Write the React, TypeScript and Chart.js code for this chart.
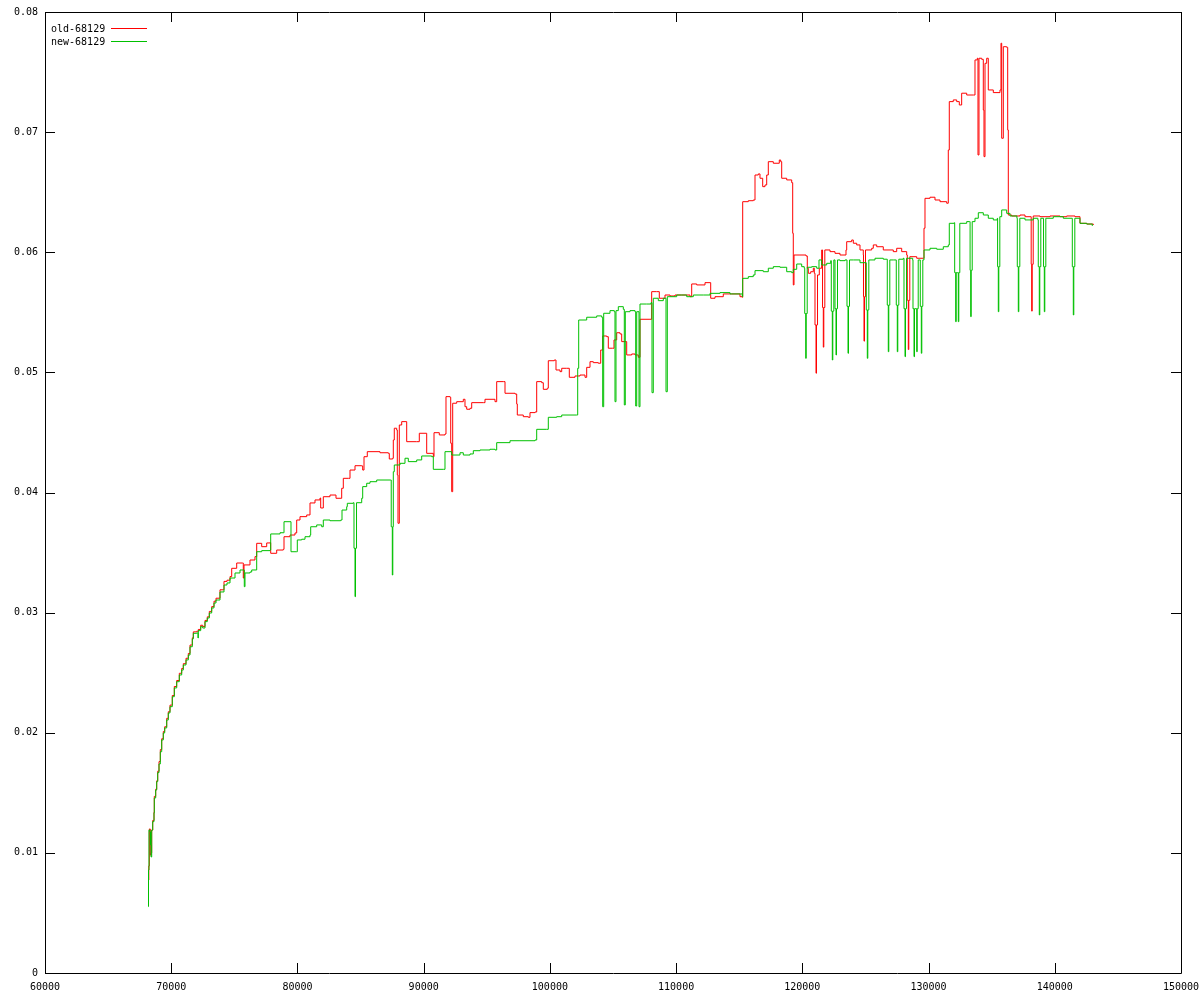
import React, { useEffect, useRef } from "react";
import { Chart, registerables } from "chart.js";

Chart.register(...registerables);

// ---- data ----
const seriesLabels = ["old-68129", "new-68129"];
const seriesColors = ["#ff0000", "#00c000"];

const xTickValues = [60000, 70000, 80000, 90000, 100000, 110000, 120000, 130000, 140000, 150000];
const yTickValues = [0, 0.01, 0.02, 0.03, 0.04, 0.05, 0.06, 0.07, 0.08];

const oldSeries: [number, number][] = [
  [68184, 0.00774], [68224, 0.00891], [68263, 0.01199], [68342, 0.00982], [68398, 0.01000], [68453, 0.0119],
  [68533, 0.0127], [68636, 0.0134], [68659, 0.0147], [68770, 0.0153], [68849, 0.016], [68929, 0.0168],
  [69032, 0.0176], [69135, 0.0186], [69246, 0.0195], [69372, 0.0201], [69483, 0.0205], [69642, 0.0212],
  [69768, 0.02175], [69903, 0.0223], [70085, 0.0231], [70244, 0.02385], [70434, 0.02435], [70640, 0.02495],
  [70830, 0.02535], [70957, 0.02575], [71171, 0.0262], [71353, 0.0266], [71488, 0.0273], [71670, 0.0279],
  [71749, 0.0284], [72018, 0.02845], [72145, 0.0286], [72335, 0.02895], [72494, 0.02885], [72676, 0.02935],
  [72858, 0.02965], [73017, 0.0301], [73207, 0.0305], [73389, 0.03095], [73547, 0.0312], [73864, 0.0319],
  [74181, 0.0326], [74419, 0.0327], [74657, 0.033],
  [74791, 0.03369], [75187, 0.03413], [75647, 0.03413], [75710, 0.03288], [75766, 0.03397], [76241, 0.03438],
  [76637, 0.03466], [76772, 0.03577], [77168, 0.03549], [77564, 0.0358], [77826, 0.03582], [77881, 0.03494],
  [78356, 0.03521], [78879, 0.03527], [78935, 0.03632], [79410, 0.03646], [79806, 0.03663], [79941, 0.03771],
  [80202, 0.03799], [80733, 0.03813], [80995, 0.03913], [81391, 0.03938], [81787, 0.03954], [81842, 0.03871],
  [82049, 0.03965], [82579, 0.03979], [83054, 0.03952], [83451, 0.03952], [83506, 0.04035], [83633, 0.04118],
  [84029, 0.04118], [84164, 0.04187], [84560, 0.04223], [85091, 0.04221], [85170, 0.04187], [85273, 0.04298],
  [85534, 0.0434], [86540, 0.04331], [87198, 0.04326], [87277, 0.04279], [87547, 0.04285], [87594, 0.04437],
  [87673, 0.04535], [87863, 0.0452], [87911, 0.04146], [87966, 0.03744], [88070, 0.04562], [88259, 0.0459],
  [88600, 0.0459], [88656, 0.04423], [89448, 0.04423], [89654, 0.04493], [90106, 0.04493], [90240, 0.04326],
  [90763, 0.04298], [90819, 0.04498], [91238, 0.04479], [91690, 0.04487], [91769, 0.04798], [92086, 0.04793],
  [92142, 0.0441], [92221, 0.04007], [92300, 0.04743], [92617, 0.04756], [93140, 0.04776], [93274, 0.04714],
  [93409, 0.04693], [93671, 0.04701], [93805, 0.04748], [94725, 0.04748], [94859, 0.04776], [95651, 0.04756],
  [95786, 0.04923], [96309, 0.04923], [96444, 0.04826], [97236, 0.0482], [97370, 0.04737], [97418, 0.04645],
  [97894, 0.04631], [98290, 0.04626], [98424, 0.04665], [98820, 0.0467], [98955, 0.04923], [99351, 0.04914],
  [99478, 0.04859], [99795, 0.04868], [99874, 0.05097], [100349, 0.05103], [100484, 0.0502], [100801, 0.05006],
  [100936, 0.05034], [101332, 0.05034], [101538, 0.04959], [101989, 0.0497], [102385, 0.04978], [102782, 0.04959],
  [102916, 0.05042], [103178, 0.05089], [103440, 0.05081], [103835, 0.05076], [104025, 0.05186], [104184, 0.05303],
  [104501, 0.05297], [104628, 0.05201], [104976, 0.05201], [105079, 0.0527], [105293, 0.0533], [105554, 0.0532],
  [105689, 0.05256], [105951, 0.05256], [106085, 0.05145], [106481, 0.05153], [106743, 0.05145], [107004, 0.05126],
  [107139, 0.05442], [107931, 0.05442], [108065, 0.05672], [108461, 0.05672], [108668, 0.05617], [109120, 0.05644],
  [109516, 0.05636], [109912, 0.05644], [110442, 0.05644], [111100, 0.0563], [111235, 0.05736], [111631, 0.05728],
  [112289, 0.05747], [112685, 0.05747], [112740, 0.05617], [113081, 0.0563], [113738, 0.05653], [114403, 0.05653],
  [115061, 0.0563], [115243, 0.05625], [115275, 0.06421], [115719, 0.06429], [116115, 0.06435], [116250, 0.06643],
  [116511, 0.06652], [116646, 0.06616], [116860, 0.06546], [117042, 0.0656], [117177, 0.06643], [117304, 0.06754],
  [117700, 0.06741], [118175, 0.06768], [118286, 0.06754], [118365, 0.06616], [118761, 0.06602], [119157, 0.06579],
  [119237, 0.06158], [119284, 0.05728], [119340, 0.05977], [119815, 0.05977], [120290, 0.05969], [120393, 0.05867],
  [120473, 0.05825], [120663, 0.05838], [120869, 0.05867], [120948, 0.05825], [121003, 0.05395], [121083, 0.04993],
  [121123, 0.05395], [121203, 0.05811], [121344, 0.05867], [121533, 0.06019], [121601, 0.0554], [121661, 0.0521],
  [121701, 0.0554], [121781, 0.06019], [122192, 0.06005], [122588, 0.05991], [122984, 0.05977], [123459, 0.06019],
  [123515, 0.06088], [123911, 0.06102], [124038, 0.06075], [124307, 0.06061], [124568, 0.06019], [124830, 0.05977],
  [124845, 0.0563], [124885, 0.0526], [124925, 0.0563], [125005, 0.06019], [125495, 0.06033], [125622, 0.06061],
  [125892, 0.06046], [126414, 0.06019], [127206, 0.06005], [127476, 0.06033], [127872, 0.06005], [128268, 0.05977],
  [128315, 0.056], [128395, 0.0519], [128435, 0.056], [128515, 0.05963], [129061, 0.0595], [129322, 0.0595],
  [129584, 0.0595], [129639, 0.062], [129718, 0.06449], [130114, 0.06458], [130510, 0.06435], [130906, 0.06421],
  [131437, 0.06408], [131564, 0.06851], [131643, 0.07254], [131960, 0.07268], [132229, 0.07254], [132436, 0.07226],
  [132623, 0.07324], [133022, 0.07309], [133544, 0.07309], [133679, 0.07601], [133862, 0.07615], [133917, 0.0681],
  [133996, 0.07615], [134210, 0.07606], [134337, 0.07184], [134392, 0.06796], [134472, 0.07573], [134606, 0.07615],
  [134733, 0.07351], [135130, 0.07329], [135660, 0.07351], [135739, 0.0774], [135795, 0.06949], [135922, 0.07711],
  [136191, 0.07706], [136270, 0.07018], [136318, 0.0631], [136587, 0.06302], [137244, 0.0631], [137641, 0.06296],
  [138116, 0.06296], [138131, 0.059], [138171, 0.0551], [138211, 0.059], [138291, 0.06302], [138829, 0.06296],
  [139621, 0.06302], [140413, 0.06296], [140943, 0.06302], [141602, 0.06296], [141998, 0.06241], [142529, 0.06235],
  [143052, 0.06227],
];

const newSeries: [number, number][] = [
  [68184, 0.00552], [68200, 0.00857], [68239, 0.0119], [68319, 0.01174], [68358, 0.01066], [68398, 0.00966],
  [68453, 0.0119], [68533, 0.0126], [68636, 0.01332], [68659, 0.01457], [68770, 0.01523], [68849, 0.01593],
  [68929, 0.01668], [69032, 0.0174], [69135, 0.01842], [69246, 0.0194], [69372, 0.01998], [69483, 0.0204],
  [69642, 0.02106], [69768, 0.02165], [69903, 0.02217], [70085, 0.023], [70244, 0.02373], [70434, 0.02425],
  [70640, 0.02481], [70830, 0.02522], [70957, 0.02564], [71171, 0.02606], [71353, 0.02647], [71488, 0.02716],
  [71670, 0.02781], [71749, 0.02828], [72018, 0.02831], [72121, 0.02789], [72145, 0.0285], [72335, 0.02883],
  [72494, 0.02872], [72676, 0.02925], [72858, 0.02955], [73017, 0.02997], [73207, 0.03039], [73389, 0.0308],
  [73547, 0.03105], [73864, 0.03172], [74181, 0.0323], [74419, 0.03247], [74657, 0.03288],
  [75053, 0.0333], [75449, 0.03355], [75726, 0.03355], [75789, 0.03216], [75845, 0.0333], [76241, 0.03338],
  [76376, 0.03355], [76772, 0.03507], [77168, 0.03516], [77826, 0.03521], [77881, 0.03655], [78618, 0.03665],
  [78879, 0.03665], [78935, 0.03757], [79410, 0.03757], [79489, 0.03507], [79941, 0.03507], [79989, 0.03605],
  [80337, 0.03611], [80599, 0.03632], [80995, 0.03646], [81050, 0.03715], [81525, 0.0373], [81922, 0.03715],
  [82049, 0.03771], [82579, 0.03765], [83427, 0.03771], [83530, 0.03854], [83902, 0.03882], [83950, 0.0391],
  [84425, 0.03915], [84480, 0.03536], [84560, 0.03133], [84600, 0.03536], [84680, 0.03915], [85091, 0.03952],
  [85170, 0.04049], [85487, 0.04077], [85748, 0.0409], [86279, 0.04104], [87388, 0.04104], [87430, 0.03715],
  [87515, 0.03313], [87555, 0.03715], [87594, 0.04173], [87673, 0.04229], [88125, 0.04243], [88521, 0.04285],
  [88783, 0.04257], [89448, 0.04271], [89844, 0.04304], [90636, 0.04298], [90763, 0.04193], [91555, 0.04193],
  [91690, 0.0434], [92221, 0.04312], [92878, 0.04331], [93140, 0.04312], [93671, 0.04321], [93932, 0.04348],
  [94463, 0.04354], [95255, 0.0436], [95651, 0.04354], [95786, 0.04415], [96840, 0.04431], [97632, 0.04431],
  [98820, 0.04437], [98955, 0.04526], [99747, 0.04526], [99874, 0.04626], [100539, 0.04631], [100936, 0.04645],
  [102123, 0.04645], [102203, 0.05034], [102282, 0.05436], [102916, 0.05459], [103708, 0.0547], [104105, 0.05459],
  [104184, 0.04714], [104263, 0.05492], [104762, 0.05514], [105103, 0.05505], [105158, 0.04756], [105237, 0.05514],
  [105420, 0.05547], [105816, 0.05525], [105895, 0.04729], [105974, 0.05505], [106347, 0.05514], [106743, 0.05505],
  [106798, 0.0472], [106878, 0.05505], [106980, 0.05505], [107060, 0.04714], [107139, 0.05569], [107670, 0.05569],
  [108010, 0.0558], [108090, 0.04831], [108192, 0.05617], [108589, 0.05597], [108985, 0.05617], [109199, 0.04839],
  [109302, 0.0563], [110046, 0.05644], [110838, 0.0563], [111362, 0.05644], [112154, 0.05644], [112685, 0.05658],
  [113477, 0.05664], [114269, 0.05653], [115061, 0.05653], [115243, 0.0563], [115275, 0.05783], [115719, 0.05797],
  [116115, 0.05811], [116250, 0.05847], [116908, 0.05838], [117304, 0.05867], [117700, 0.0588], [118230, 0.05875],
  [118761, 0.05838], [119157, 0.0583], [119284, 0.05858], [119553, 0.05902], [119950, 0.0588], [120150, 0.05867],
  [120190, 0.0549], [120267, 0.05117], [120307, 0.0549], [120387, 0.05875], [120742, 0.0588], [121138, 0.05867],
  [121320, 0.05936], [121533, 0.05894], [121930, 0.05908], [122250, 0.0593], [122294, 0.0551], [122374, 0.05103],
  [122414, 0.0551], [122494, 0.05936], [122587, 0.0553], [122667, 0.05145], [122707, 0.0553], [122787, 0.05936],
  [122984, 0.0593], [123380, 0.05936], [123538, 0.0555], [123618, 0.05159], [123658, 0.0555], [123738, 0.05936],
  [124038, 0.05936], [124568, 0.05913], [125067, 0.0552], [125147, 0.05117], [125187, 0.0552], [125267, 0.05936],
  [125757, 0.0595], [126414, 0.05942], [126730, 0.0556], [126810, 0.05172], [126850, 0.0556], [126930, 0.05936],
  [127206, 0.05936], [127443, 0.0556], [127523, 0.05172], [127563, 0.0556], [127643, 0.05942], [127999, 0.0595],
  [128054, 0.0553], [128134, 0.05131], [128174, 0.0553], [128254, 0.0595], [128744, 0.05936], [128767, 0.0553],
  [128847, 0.05131], [128887, 0.0553], [129061, 0.05172], [129101, 0.0553], [129181, 0.05936], [129345, 0.0555],
  [129425, 0.05159], [129465, 0.0555], [129545, 0.05936], [129639, 0.06019], [130114, 0.06033], [130645, 0.06025],
  [131168, 0.06046], [131564, 0.06061], [131643, 0.06241], [132040, 0.06246], [132070, 0.0583], [132150, 0.05422],
  [132190, 0.0583], [132276, 0.0583], [132356, 0.05422], [132396, 0.0583], [132476, 0.06241], [133022, 0.06255],
  [133259, 0.06255], [133290, 0.0585], [133339, 0.05464], [133379, 0.0585], [133459, 0.06255], [133679, 0.06283],
  [133941, 0.06329], [134337, 0.0631], [134733, 0.06283], [135130, 0.06269], [135446, 0.06283], [135470, 0.0588],
  [135526, 0.05505], [135566, 0.0588], [135646, 0.06296], [135795, 0.06352], [136191, 0.06324], [136452, 0.06302],
  [137000, 0.06283], [137030, 0.0588], [137110, 0.05505], [137150, 0.0588], [137230, 0.06283], [137641, 0.06269],
  [138298, 0.06283], [138660, 0.06269], [138693, 0.0588], [138773, 0.05478], [138813, 0.0588], [138893, 0.06283],
  [139090, 0.06283], [139110, 0.0588], [139170, 0.05505], [139210, 0.0588], [139290, 0.06283], [139882, 0.06296],
  [140676, 0.06283], [141370, 0.06283], [141388, 0.0588], [141468, 0.05478], [141508, 0.0588], [141588, 0.06283],
  [141998, 0.06241], [142529, 0.06235], [142972, 0.06219],
];

const FONT = "'DejaVu Sans Mono', monospace";

const gnuplotFrame = {
  id: "gnuplotFrame",
  afterDraw(chart: any) {
    const { ctx, chartArea: a, scales } = chart;
    const L = 10;
    ctx.save();
    ctx.strokeStyle = "#000";
    ctx.lineWidth = 1;
    ctx.beginPath();
    ctx.rect(a.left + 0.5, a.top + 0.5, a.right - a.left, a.bottom - a.top);
    scales.x.ticks.forEach((t: any) => {
      const px = Math.round(scales.x.getPixelForValue(t.value)) + 0.5;
      ctx.moveTo(px, a.bottom);
      ctx.lineTo(px, a.bottom - L);
      ctx.moveTo(px, a.top);
      ctx.lineTo(px, a.top + L);
    });
    scales.y.ticks.forEach((t: any) => {
      const py = Math.round(scales.y.getPixelForValue(t.value)) + 0.5;
      ctx.moveTo(a.left, py);
      ctx.lineTo(a.left + L, py);
      ctx.moveTo(a.right, py);
      ctx.lineTo(a.right - L, py);
    });
    ctx.stroke();

    // key (legend) in gnuplot style: text, then line sample
    ctx.font = `10px ${FONT}`;
    ctx.textBaseline = "middle";
    ctx.textAlign = "left";
    chart.data.datasets.forEach((ds: any, i: number) => {
      const y = a.top + 16 + i * 13;
      ctx.fillStyle = "#000";
      ctx.fillText(ds.label, a.left + 6, y + 1);
      ctx.strokeStyle = ds.borderColor;
      ctx.beginPath();
      ctx.moveTo(a.left + 66, y + 0.5);
      ctx.lineTo(a.left + 102, y + 0.5);
      ctx.stroke();
    });
    ctx.restore();
  },
};

export default function App() {
  const ref = useRef<HTMLCanvasElement | null>(null);

  useEffect(() => {
    if (!ref.current) return;
    const common = {
      borderWidth: 1,
      pointRadius: 0,
      tension: 0,
      fill: false,
      stepped: true,
    };
    const chart = new Chart(ref.current, {
      type: "line",
      data: {
        datasets: [
          {
            ...common,
            label: seriesLabels[0],
            data: oldSeries.map(([x, y]) => ({ x, y })),
            borderColor: seriesColors[0],
            backgroundColor: seriesColors[0],
            order: 1,
          },
          {
            ...common,
            label: seriesLabels[1],
            data: newSeries.map(([x, y]) => ({ x, y })),
            borderColor: seriesColors[1],
            backgroundColor: seriesColors[1],
            order: 0,
          },
        ],
      },
      options: {
        animation: false,
        responsive: false,
        devicePixelRatio: 1,
        layout: { padding: { top: 12, right: 19, left: 0, bottom: 0 } },
        plugins: { legend: { display: false }, tooltip: { enabled: false } },
        scales: {
          x: {
            type: "linear",
            min: xTickValues[0],
            max: xTickValues[xTickValues.length - 1],
            grid: { display: false, drawTicks: false },
            border: { display: false },
            afterBuildTicks: (s: any) => {
              s.ticks = xTickValues.map((v) => ({ value: v }));
            },
            ticks: {
              autoSkip: false,
              maxRotation: 0,
              padding: 8,
              color: "#000",
              font: { family: FONT, size: 10 },
              callback: (v: any) => String(v),
            },
            afterFit: (s: any) => {
              s.height = 27;
              s.paddingLeft = 0;
              s.paddingRight = 0;
            },
          },
          y: {
            type: "linear",
            min: yTickValues[0],
            max: yTickValues[yTickValues.length - 1],
            grid: { display: false, drawTicks: false },
            border: { display: false },
            afterBuildTicks: (s: any) => {
              s.ticks = yTickValues.map((v) => ({ value: v }));
            },
            ticks: {
              autoSkip: false,
              padding: 7,
              color: "#000",
              font: { family: FONT, size: 10 },
              callback: (v: any) => (v === 0 ? "0" : Number(v).toFixed(2)),
            },
            afterFit: (s: any) => {
              s.width = 45;
              s.paddingTop = 0;
              s.paddingBottom = 0;
            },
          },
        },
      } as any,
      plugins: [gnuplotFrame],
    });
    return () => chart.destroy();
  }, []);

  return (
    <div style={{ position: "absolute", left: 0, top: 0, width: 1200, height: 1000, background: "#fff" }}>
      <canvas ref={ref} width={1200} height={1000} style={{ display: "block", width: 1200, height: 1000 }} />
    </div>
  );
}
